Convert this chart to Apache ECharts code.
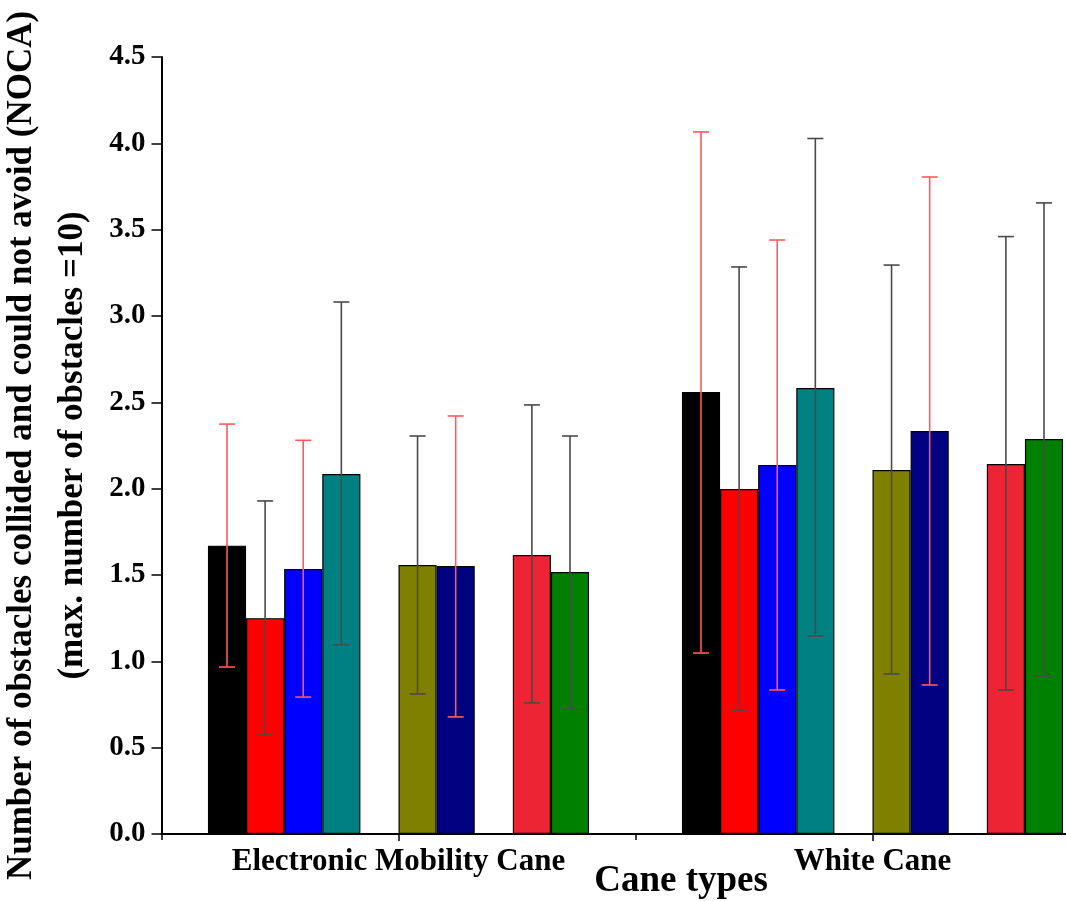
<!DOCTYPE html>
<html>
<head>
<meta charset="utf-8">
<script src="https://cdn.jsdelivr.net/npm/echarts@6/dist/echarts.min.js"></script>
<style>
html, body { margin: 0; padding: 0; background: #ffffff; }
#chart { width: 1066px; height: 901px; }
</style>
</head>
<body>
<div id="chart"></div>
<script>
// ---- Data ----
const categories = ['Electronic Mobility Cane', 'White Cane'];
const seriesNames = ['Bar 1', 'Bar 2', 'Bar 3', 'Bar 4', 'Bar 5', 'Bar 6', 'Bar 7', 'Bar 8'];
// mean values per bar, for each cane type
const emcMean = [1.67, 1.25, 1.535, 2.085, 1.558, 1.552, 1.616, 1.517];
const wcMean  = [2.56, 1.998, 2.137, 2.583, 2.108, 2.334, 2.143, 2.288];
// lower / upper ends of the error bars
const emcLow  = [0.967, 0.573, 0.793, 1.095, 0.811, 0.678, 0.759, 0.724];
const emcHigh = [2.374, 1.929, 2.28, 3.081, 2.305, 2.421, 2.485, 2.305];
const wcLow   = [1.048, 0.718, 0.834, 1.147, 0.927, 0.863, 0.834, 0.915];
const wcHigh  = [4.066, 3.284, 3.44, 4.028, 3.295, 3.805, 3.46, 3.655];
// y axis scale
const yMin = 0, yMax = 4.5, yStep = 0.5;
const yTitleLines = ['Number of obstacles collided and could not avoid (NOCA)', '(max. number of obstacles =10)'];
const xTitle = 'Cane types';

// ---- Styles / layout ----
const barColors = ['#000000', '#ff0000', '#0000ff', '#008080', '#808000', '#000080', '#ec2434', '#008000'];
const errColors = ['#ff5a5a', '#4a4a4a', '#ff5a5a', '#4a4a4a', '#4a4a4a', '#ff5a5a', '#4a4a4a', '#4a4a4a'];
const slotOfBar = [0, 1, 2, 3, 5, 6, 8, 9]; // slots 4 and 7 are empty gaps
const TOTAL_SLOTS = 10;
const CAT_GAP = 0.196;
const FONT = "'Liberation Serif', 'Times New Roman', serif";

const series = [];
for (let s = 0; s < TOTAL_SLOTS; s++) {
  const i = slotOfBar.indexOf(s);
  if (i < 0) {
    series.push({ type: 'bar', name: 'gap' + s, data: [null, null], silent: true,
      barGap: '0%', barCategoryGap: (CAT_GAP * 100) + '%' });
  } else {
    series.push({
      type: 'bar', name: seriesNames[i],
      data: [emcMean[i], wcMean[i]],
      barGap: '0%', barCategoryGap: (CAT_GAP * 100) + '%',
      itemStyle: { color: barColors[i], borderColor: '#000', borderWidth: 1.2 },
      z: 2
    });
  }
}
slotOfBar.forEach(function (slot, i) {
  series.push({
    type: 'custom', name: seriesNames[i] + ' error',
    data: [[0, emcLow[i], emcHigh[i]], [1, wcLow[i], wcHigh[i]]],
    encode: { x: 0, y: [1, 2] },
    z: 5, silent: true,
    renderItem: function (params, api) {
      const cat = api.value(0);
      const lo = api.value(1), hi = api.value(2);
      const band = api.size([1, 0])[0];
      const used = band * (1 - CAT_GAP);
      const bw = used / TOTAL_SLOTS;
      const cx = api.coord([cat, 0])[0] - used / 2 + (slot + 0.5) * bw;
      const yLo = api.coord([cat, lo])[1];
      const yHi = api.coord([cat, hi])[1];
      const half = 8;
      const st = { stroke: errColors[i], lineWidth: 1.6, fill: null };
      return { type: 'group', children: [
        { type: 'line', shape: { x1: cx, y1: yLo, x2: cx, y2: yHi }, style: st },
        { type: 'line', shape: { x1: cx - half, y1: yHi, x2: cx + half, y2: yHi }, style: st },
        { type: 'line', shape: { x1: cx - half, y1: yLo, x2: cx + half, y2: yLo }, style: st }
      ]};
    }
  });
});

const chart = echarts.init(document.getElementById('chart'), null, { renderer: 'canvas' });
chart.setOption({
  backgroundColor: '#ffffff',
  animation: false,
  grid: { left: 161.5, top: 57, width: 948, height: 777, containLabel: false, outerBoundsMode: 'none' },
  xAxis: [{
    type: 'category', data: categories, position: 'bottom',
    axisLine: { show: true, lineStyle: { color: '#000', width: 2 } },
    axisTick: { show: true, alignWithLabel: true, inside: false, length: 7, lineStyle: { color: '#000', width: 1.5 } },
    axisLabel: { color: '#000', fontFamily: FONT, fontWeight: 'bold', fontSize: 31, margin: 12 },
    splitLine: { show: false }
  }, {
    type: 'category', data: categories, position: 'bottom',
    axisLine: { show: false },
    axisTick: { show: true, alignWithLabel: false, length: 6, lineStyle: { color: '#000', width: 1.5 } },
    axisLabel: { show: false },
    splitLine: { show: false }
  }],
  yAxis: {
    type: 'value', min: yMin, max: yMax, interval: yStep,
    axisLine: { show: true, lineStyle: { color: '#000', width: 2 } },
    axisTick: { show: true, inside: false, length: 10, lineStyle: { color: '#000', width: 1.5 } },
    axisLabel: { color: '#000', fontFamily: FONT, fontWeight: 'bold', fontSize: 29, margin: 16,
      formatter: function (v) { return v.toFixed(1); } },
    splitLine: { show: false },
    name: yTitleLines.join('\n'),
    nameLocation: 'middle', nameRotate: 90, nameGap: 53,
    nameTextStyle: { color: '#000', fontFamily: FONT, fontWeight: 'bold', fontSize: 35, lineHeight: 51, align: 'center' }
  },
  graphic: [{
    type: 'text', x: 681, y: 881,
    style: { text: xTitle, fill: '#000', font: 'bold 37px ' + FONT, textAlign: 'center', textVerticalAlign: 'middle' }
  }],
  series: series
});
</script>
</body>
</html>
